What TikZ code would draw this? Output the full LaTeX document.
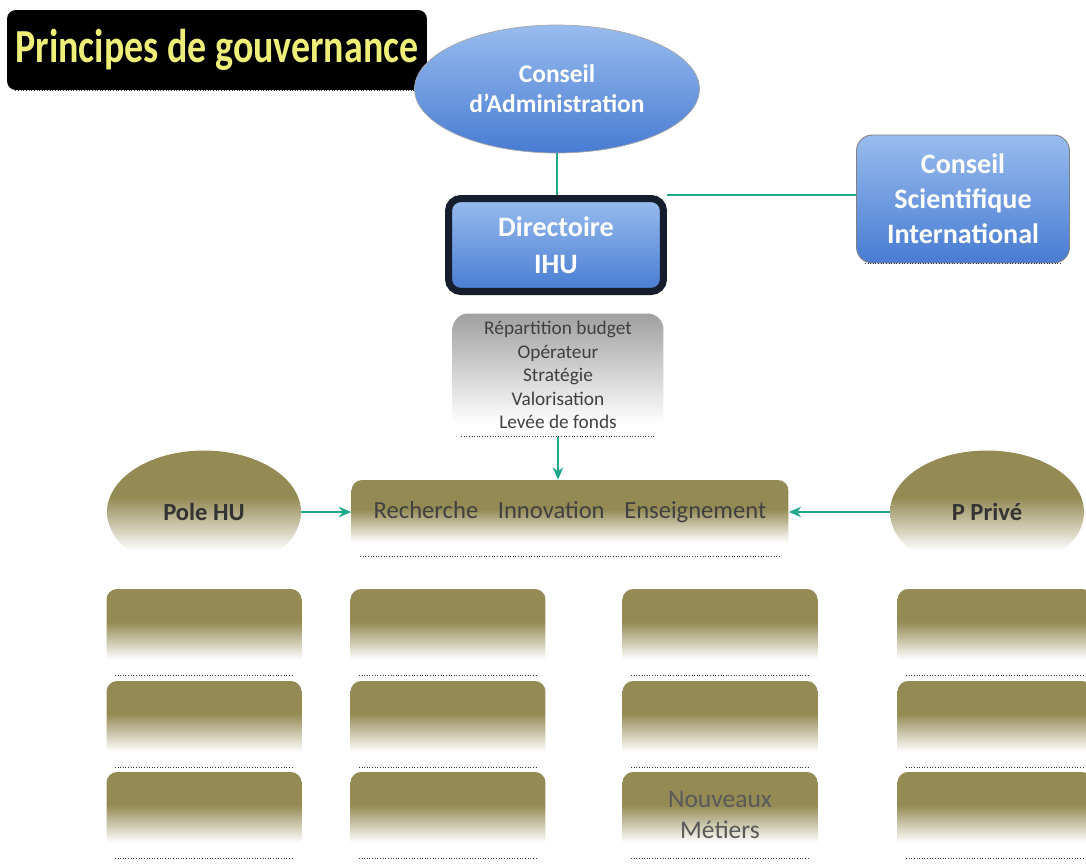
\documentclass[tikz,border=0pt]{standalone}
\usepackage{fontspec}
\setmainfont{Carlito}
\newfontfamily\titlefont[FakeStretch=0.8]{Carlito}
\usetikzlibrary{shapes.geometric,arrows.meta}
\definecolor{olv}{RGB}{148,138,84}
\definecolor{gry}{RGB}{160,160,160}
\definecolor{bluetop}{RGB}{152,188,238}
\definecolor{bluebot}{RGB}{72,124,210}
\definecolor{teal2}{RGB}{32,168,140}
\definecolor{navy}{RGB}{22,30,45}
\definecolor{titleyellow}{RGB}{238,238,120}
\definecolor{txtgray}{RGB}{64,64,64}
\pgfdeclareverticalshading{olivefade}{100bp}{color(0bp)=(white); color(34bp)=(white); color(56bp)=(olv); color(100bp)=(olv)}
\pgfdeclareverticalshading{grayfade}{100bp}{color(0bp)=(white); color(30bp)=(white); color(75bp)=(gry); color(100bp)=(gry)}
\begin{document}
\begin{tikzpicture}[x=0.02cm,y=-0.02cm,
  dotline/.style={draw=black!80, line width=0.5pt, dash pattern=on 0.5pt off 1pt},
  bottomrule/.style={append after command={([xshift=5pt]\tikzlastnode.south west) edge[dotline] ([xshift=-5pt]\tikzlastnode.south east)}},
  bluebox/.style={top color=bluetop, bottom color=bluebot, text=white, align=center},
  olivebox/.style={rectangle, rounded corners=6pt, shading=olivefade, minimum width=3.9cm, minimum height=1.72cm, bottomrule},
  olivecirc/.style={ellipse, shading=olivefade, minimum width=3.88cm, minimum height=2.46cm, text=black!80, font=\bfseries\fontsize{14}{16}\selectfont},
  link/.style={draw=teal2, line width=1.2pt},
  arrowlink/.style={link, -{Stealth[length=7pt,width=6pt]}},
]
\path[use as bounding box, clip] (0,0) rectangle (1086,863);
\fill[white] (0,0) rectangle (1086,863);

% title
\node[fill=black, rounded corners=5pt, minimum width=8.4cm, minimum height=1.6cm, text=titleyellow, bottomrule,
      font=\titlefont\bfseries\fontsize{27}{30}\selectfont] (title) at (217,50) {Principes de gouvernance};

% top governance
\node[ellipse, bluebox, draw=gray!70, line width=0.4pt, minimum width=5.7cm, minimum height=2.56cm, inner sep=0pt,
      font=\bfseries\fontsize{14.5}{17}\selectfont] (ca) at (557,89) {Conseil\\d’Administration};
\node[rectangle, bluebox, draw=navy, line width=4pt, rounded corners=7pt, minimum width=4.3cm, minimum height=1.86cm,
      font=\bfseries\fontsize{16}{21}\selectfont] (dir) at (556,245) {Directoire\\IHU};
\node[rectangle, bluebox, draw=black!50, line width=0.5pt, rounded corners=9pt, minimum width=4.26cm, minimum height=2.56cm,
      font=\bfseries\fontsize{16}{20}\selectfont, bottomrule] (cs) at (963,199) {Conseil\\Scientifique\\International};

\draw[link] (ca.south) -- (ca.south |- dir.north);
\draw[link] (dir.north east) -- (dir.north east -| cs.west);

% operations box
\node[rectangle, rounded corners=9pt, shading=grayfade, minimum width=4.22cm, minimum height=2.46cm, text=txtgray, align=center,
      font=\fontsize{11}{13.4}\selectfont, bottomrule] (ops) at (558,375)
      {Répartition budget\\Opérateur\\Stratégie\\Valorisation\\Levée de fonds};

% central box
\node[rectangle, rounded corners=6pt, shading=olivefade, minimum width=8.74cm, minimum height=1.52cm, text=txtgray,
      font=\fontsize{14}{16}\selectfont, text height=10pt, text depth=10pt, bottomrule] (rie) at (570,518)
      {Recherche\hspace{8pt} Innovation\hspace{8pt} Enseignement};

\node[olivecirc] (phu) at (204,512) {Pole HU};
\node[olivecirc] (pp) at (987,512) {P Privé};

\draw[arrowlink] (ops.south) -- (ops.south |- rie.north);
\draw[arrowlink] (phu.east) -- (phu.east -| rie.west);
\draw[arrowlink] (pp.west) -- (pp.west -| rie.east);

% grid of boxes
\foreach \c/\x in {1/204, 2/448, 3/720, 4/995}{
  \foreach \r/\y in {1/632, 2/724}{
    \node[olivebox] (b\c\r) at (\x,\y) {};
  }
}
\node[olivebox] (b13) at (204,815) {};
\node[olivebox] (b23) at (448,815) {};
\node[olivebox, text=black!65, align=center, font=\fontsize{14.5}{17.6}\selectfont] (b33) at (720,815) {Nouveaux\\Métiers};
\node[olivebox] (b43) at (995,815) {};
\end{tikzpicture}
\end{document}
